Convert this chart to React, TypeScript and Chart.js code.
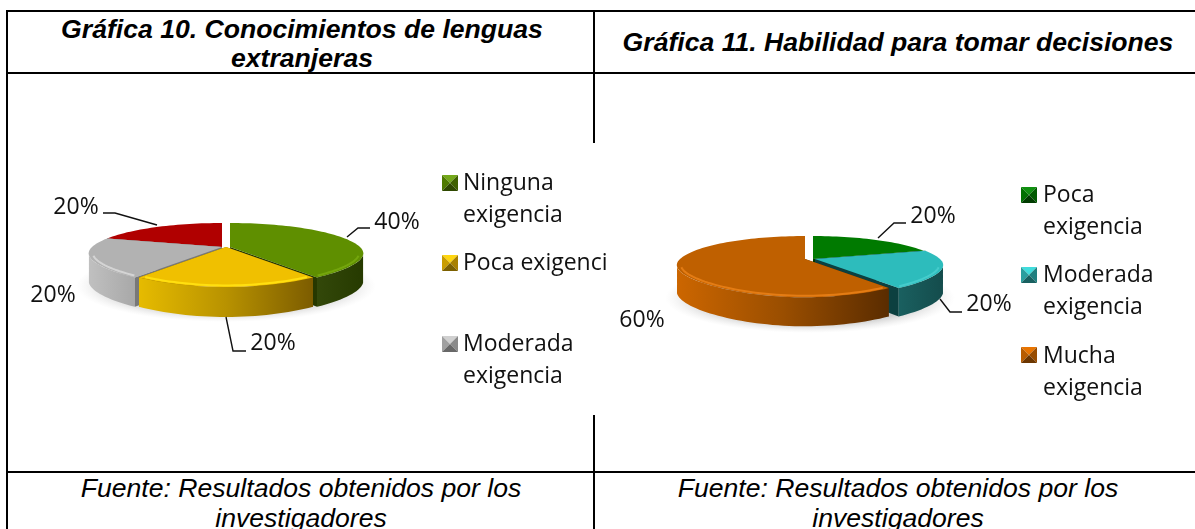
import React, { useEffect, useRef } from "react";
import { Chart, registerables } from "chart.js";

Chart.register(...registerables);

const left_categories = ["Ninguna exigencia", "Poca exigencia", "Moderada exigencia", "Mucha exigencia"];
const left_values = [40, 20, 20, 20];
const left_legend_lines = [["Ninguna", "exigencia"], ["Poca exigencia"], ["Moderada", "exigencia"]];
const right_categories = ["Poca exigencia", "Moderada exigencia", "Mucha exigencia"];
const right_values = [20, 20, 60];
const right_legend_lines = [["Poca", "exigencia"], ["Moderada", "exigencia"], ["Mucha", "exigencia"]];

const FONT = '"Open Sans", sans-serif';
const K = 0.25;
const SQUEEZE = 0.14;
const FACING = Math.asin(K);

type SliceStyle = {
  top: string; glow: string; side: string; wall: string[]; dx: number; mark: string[];
};

const leftStyles: SliceStyle[] = [
  { top: "#5f8f00", glow: "#74a60c", side: "#263800", wall: ["#33480a", "#263a00"], dx: 4, mark: ["#74a81a", "#4f7a00", "#3f6000", "#2f4800"] },
  { top: "#f0c000", glow: "#ffdf10", side: "#7a6000", wall: ["#e6bb00", "#b89200", "#7c5c00"], dx: 0, mark: ["#ffd610", "#c89c00", "#a88000", "#7c6000"] },
  { top: "#b2b2b2", glow: "#d4d4d4", side: "#787878", wall: ["#c0c0c0", "#a8a8a8"], dx: -4, mark: ["#d0d0d0", "#a0a0a0", "#8a8a8a", "#686868"] },
  { top: "#b00000", glow: "#b00000", side: "#600000", wall: ["#800000", "#600000"], dx: -4, mark: ["#d01010", "#a00000", "#800000", "#600000"] },
];
const rightStyles: SliceStyle[] = [
  { top: "#007a00", glow: "#007a00", side: "#003a00", wall: ["#005000", "#003a00"], dx: 3, mark: ["#109010", "#007000", "#005a00", "#003c00"] },
  { top: "#2dbcbc", glow: "#45cccc", side: "#0c4040", wall: ["#1a6060", "#144c4c"], dx: 5, mark: ["#40dcdc", "#2a9e9e", "#208080", "#186060"] },
  { top: "#bf6000", glow: "#e47c14", side: "#5a2c00", wall: ["#cc6600", "#9a4e00", "#5a2c00"], dx: -5, mark: ["#e87400", "#b85c00", "#984c00", "#6c3600"] },
];

const leftView = {
  canvas: { x: 8, y: 143, w: 600, h: 272 },
  cx: 226, cy: 247, R: 130, H: 30, depth: 27,
  shadow: { x: 226, y: 286, rx: 150, ry: 36 },
  order: [3, 2, 0, 1],
  styles: leftStyles,
  labels: [
    { x: 397, y: 222, line: [[347, 237], [358, 228], [370, 228]] },
    { x: 273, y: 343, line: [[226, 317], [233, 351], [246, 351]] },
    { x: 53, y: 295, line: [] },
    { x: 76, y: 207, line: [[157, 225], [115, 213], [103, 213]] },
  ],
  legendLines: left_legend_lines,
  legend: [
    { mx: 442, my: 175, tx: 463, ty: 183 },
    { mx: 442, my: 255, tx: 463, ty: 263 },
    { mx: 442, my: 336, tx: 463, ty: 344 },
  ],
};

const rightView = {
  canvas: { x: 610, y: 143, w: 585, h: 272 },
  cx: 810, cy: 259, R: 125, H: 28.7, depth: 26,
  shadow: { x: 810, y: 298, rx: 145, ry: 35 },
  order: [0, 1, 2],
  styles: rightStyles,
  labels: [
    { x: 933, y: 216, line: [[878, 238], [894, 223], [906, 223]] },
    { x: 989, y: 304, line: [[940, 299], [950, 312], [962, 312]] },
    { x: 642, y: 320, line: [] },
  ],
  legendLines: right_legend_lines,
  legend: [
    { mx: 1021, my: 187, tx: 1043, ty: 195 },
    { mx: 1021, my: 267, tx: 1043, ty: 275 },
    { mx: 1021, my: 347, tx: 1043, ty: 356 },
  ],
};

function makePlugin(view: typeof leftView) {
  const project = (a: number, r: number, dx: number, down = false) => {
    const u = Math.cos(a) * r;
    const v = Math.sin(a) * r;
    const s = 1 / (1 - K * v);
    const pos = Math.max(0, v);
    const x = view.cx + dx + view.R * u * s * (1 - SQUEEZE * pos * pos);
    let y = view.cy + view.H * v * s;
    if (down) y += view.depth + 3 * pos;
    return [x, y];
  };
  const arcPts = (a0: number, a1: number, r: number, dx: number, down = false) => {
    const n = Math.max(4, Math.ceil(((a1 - a0) / (2 * Math.PI)) * 160));
    const pts: number[][] = [];
    for (let i = 0; i <= n; i++) pts.push(project(a0 + ((a1 - a0) * i) / n, r, dx, down));
    return pts;
  };
  const fillPoly = (ctx: CanvasRenderingContext2D, pts: number[][], fill: string | CanvasGradient) => {
    ctx.beginPath();
    pts.forEach((p, i) => (i ? ctx.lineTo(p[0], p[1]) : ctx.moveTo(p[0], p[1])));
    ctx.closePath();
    ctx.fillStyle = fill;
    ctx.fill();
  };

  return {
    id: "pie3d",
    beforeDraw(chart: any) {
      const ctx = chart.ctx as CanvasRenderingContext2D;
      ctx.save();
      ctx.fillStyle = "#ffffff";
      ctx.fillRect(0, 0, chart.width, chart.height);
      ctx.restore();
    },
    beforeDatasetsDraw(chart: any) {
      const ctx = chart.ctx as CanvasRenderingContext2D;
      const arcs = chart.getDatasetMeta(0).data;
      ctx.save();
      ctx.translate(-view.canvas.x, -view.canvas.y);

      // soft floor shadow
      const sh = view.shadow;
      ctx.save();
      ctx.translate(sh.x, sh.y);
      ctx.scale(1, sh.ry / sh.rx);
      const g = ctx.createRadialGradient(0, 0, sh.rx * 0.75, 0, 0, sh.rx);
      g.addColorStop(0, "rgba(190,190,190,0.75)");
      g.addColorStop(1, "rgba(225,225,225,0)");
      ctx.fillStyle = g;
      ctx.beginPath();
      ctx.arc(0, 0, sh.rx, 0, Math.PI * 2);
      ctx.fill();
      ctx.restore();

      for (const i of view.order) {
        const st = view.styles[i];
        const a0 = arcs[i].startAngle;
        const a1 = arcs[i].endAngle;
        const apex = project(0, 0, st.dx);
        const apexD = [apex[0], apex[1] + view.depth];
        // radial side faces
        for (const a of [a0, a1]) {
          fillPoly(ctx, [apex, project(a, 1, st.dx), project(a, 1, st.dx, true), apexD], st.side);
        }
        // outer wall: only the stretch of rim that faces the viewer
        const w0 = Math.max(a0, FACING);
        const w1 = Math.min(a1, Math.PI - FACING);
        if (w1 > w0) {
          const topPts = arcPts(w0, w1, 1, st.dx);
          const botPts = arcPts(w0, w1, 1, st.dx, true).reverse();
          const xa = Math.min(...topPts.map((p) => p[0]));
          const xb = Math.max(...topPts.map((p) => p[0]));
          const wg = ctx.createLinearGradient(xa, 0, xb, 0);
          st.wall.forEach((c, n) => wg.addColorStop(n / (st.wall.length - 1), c));
          fillPoly(ctx, [...topPts, ...botPts], wg);
        }
        // top face
        fillPoly(ctx, [apex, ...arcPts(a0, a1, 1, st.dx)], st.top);
        // bevel highlight on the part of the rim that faces the viewer
        if (w1 > w0) {
          const rim = arcPts(w0 + 0.03, w1 - 0.03, 0.97, st.dx);
          ctx.beginPath();
          rim.forEach((p, n) => (n ? ctx.lineTo(p[0], p[1]) : ctx.moveTo(p[0], p[1])));
          ctx.strokeStyle = st.glow;
          ctx.lineWidth = 2;
          ctx.stroke();
        }
      }
      ctx.restore();
      return false;
    },
    afterDraw(chart: any) {
      const ctx = chart.ctx as CanvasRenderingContext2D;
      const values: number[] = chart.data.datasets[0].data;
      const total = values.reduce((s, v) => s + v, 0);
      ctx.save();
      ctx.translate(-view.canvas.x, -view.canvas.y);
      ctx.textBaseline = "middle";
      ctx.fillStyle = "#111111";
      ctx.font = `23px ${FONT}`;
      // data labels and leader lines
      view.labels.forEach((l, i) => {
        ctx.textAlign = "center";
        ctx.fillStyle = "#111111";
        ctx.fillText(`${Math.round((values[i] / total) * 100)}%`, l.x, l.y);
        if (l.line.length) {
          ctx.beginPath();
          l.line.forEach((p, n) => (n ? ctx.lineTo(p[0], p[1]) : ctx.moveTo(p[0], p[1])));
          ctx.strokeStyle = "#111111";
          ctx.lineWidth = 1.4;
          ctx.stroke();
        }
      });
      // legend
      view.legend.forEach((l, i) => {
        const m = view.styles[i].mark;
        const x = l.mx, y = l.my, S = 16, c = [x + S / 2, y + S / 2];
        const tl = [x, y], tr = [x + S, y], br = [x + S, y + S], bl = [x, y + S];
        fillPoly(ctx, [tl, tr, c], m[0]);
        fillPoly(ctx, [tl, bl, c], m[1]);
        fillPoly(ctx, [tr, br, c], m[2]);
        fillPoly(ctx, [bl, br, c], m[3]);
        ctx.textAlign = "left";
        ctx.fillStyle = "#111111";
        view.legendLines[i].forEach((t: string, n: number) => ctx.fillText(t, l.tx, l.ty + n * 32.5));
      });
      ctx.restore();
    },
  };
}

function Pie({ view, labels, values }: { view: typeof leftView; labels: string[]; values: number[] }) {
  const ref = useRef<HTMLCanvasElement>(null);
  useEffect(() => {
    const chart = new Chart(ref.current as HTMLCanvasElement, {
      type: "pie",
      data: {
        labels,
        datasets: [{ data: values, backgroundColor: view.styles.map((s) => s.top) }],
      },
      options: {
        animation: false,
        responsive: false,
        devicePixelRatio: 1,
        plugins: { legend: { display: false }, tooltip: { enabled: false }, title: { display: false } },
      },
      plugins: [makePlugin(view)],
    } as any);
    return () => chart.destroy();
  }, []);
  const c = view.canvas;
  return (
    <canvas
      ref={ref}
      width={c.w}
      height={c.h}
      style={{ position: "absolute", left: c.x, top: c.y, width: c.w, height: c.h, display: "block" }}
    />
  );
}

const rule = (left: number, top: number, width: number, height: number) => (
  <div style={{ position: "absolute", left, top, width, height, background: "#000" }} />
);

const text = (cx: number, y: number, s: string, bold: boolean) => (
  <div
    style={{
      position: "absolute",
      left: cx - 297,
      width: 594,
      top: y - 15,
      height: 30,
      lineHeight: "30px",
      textAlign: "center",
      whiteSpace: "nowrap",
      fontFamily: '"Liberation Sans", Arial, sans-serif',
      fontStyle: "italic",
      fontWeight: bold ? 700 : 400,
      fontSize: 26.6,
      color: "#000",
    }}
  >
    {s}
  </div>
);

export default function App() {
  useEffect(() => {
    document.body.style.margin = "0";
    document.body.style.background = "#fff";
    document.body.style.overflow = "hidden";
  }, []);
  return (
    <div style={{ position: "fixed", left: 0, top: 0, width: 1195, height: 529, overflow: "hidden", background: "#fff" }}>
      {rule(6, 10, 1189, 2)}
      {rule(6, 72, 1189, 2)}
      {rule(6, 471, 1189, 2)}
      {rule(6, 10, 2, 519)}
      {rule(593, 10, 2, 519)}
      {text(302, 29, "Gráfica 10. Conocimientos de lenguas", true)}
      {text(302, 58, "extranjeras", true)}
      {text(898, 42, "Gráfica 11. Habilidad para tomar decisiones", true)}
      {text(301, 488, "Fuente: Resultados obtenidos por los", false)}
      {text(301, 518, "investigadores", false)}
      {text(898, 488, "Fuente: Resultados obtenidos por los", false)}
      {text(898, 518, "investigadores", false)}
      <Pie view={leftView} labels={left_categories} values={left_values} />
      <Pie view={rightView} labels={right_categories} values={right_values} />
    </div>
  );
}
